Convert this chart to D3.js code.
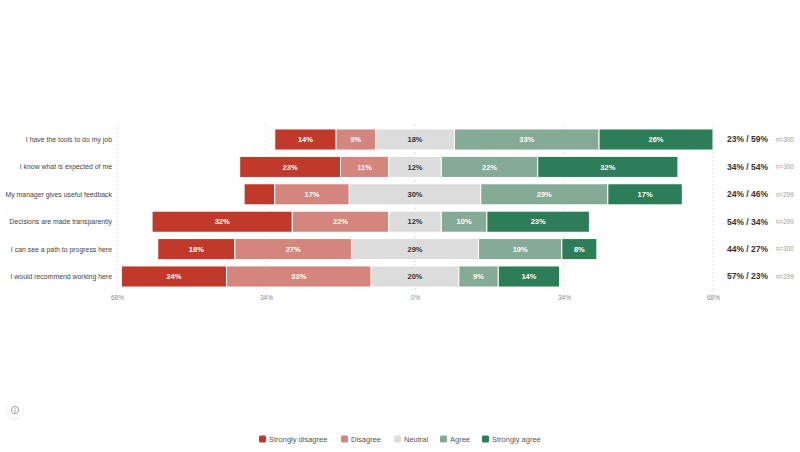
<!DOCTYPE html>
<html>
<head>
<meta charset="utf-8">
<script src="https://cdn.jsdelivr.net/npm/d3@7"></script>
<style>
  html, body { margin: 0; padding: 0; background: #fff; }
  svg { display: block; font-family: "Liberation Sans", Arial, sans-serif; }
</style>
</head>
<body>
<svg width="800" height="452"></svg>
<script>
// 질문 항목 (위에서 아래 순서)
const questions = [
  "I have the tools to do my job",
  "I know what is expected of me",
  "My manager gives useful feedback",
  "Decisions are made transparently",
  "I can see a path to progress here",
  "I would recommend working here"
];
const levels = ["Strongly disagree", "Disagree", "Neutral", "Agree", "Strongly agree"];
// 응답 비율 (%) - 레벨 순서대로
const stronglyDisagree = [14, 23, 7, 32, 17.6, 24];
const disagree = [9, 11, 17, 22, 26.6, 33];
const neutral = [18, 12, 30, 12, 29, 20];
const agree = [33, 22, 29, 10.4, 19, 9];
const stronglyAgree = [26, 32, 17, 23.4, 8, 14];
const sampleSizes = [300, 300, 299, 299, 300, 299];
const tickValues = [-68, -34, 0, 34, 68];

const colors = ["#c0392b", "#d4867e", "#dcdcdc", "#85ab96", "#2e7d59"];
const series = [stronglyDisagree, disagree, neutral, agree, stronglyAgree];

const svg = d3.select("svg");

const x = d3.scaleLinear().domain([-68, 68]).range([117, 713]);
const y = d3.scaleBand()
  .domain(questions)
  .range([125.8, 290.2])
  .paddingInner(0.23)
  .paddingOuter(0.115);

// 세로 격자선 (점선)
svg.append("g")
  .selectAll("line")
  .data(tickValues)
  .enter()
  .append("line")
  .attr("x1", (d) => x(d))
  .attr("x2", (d) => x(d))
  .attr("y1", 124)
  .attr("y2", 292)
  .attr("stroke", (d) => (d === 0 ? "#d6d6d6" : "#e4e4e4"))
  .attr("stroke-dasharray", "2,2");

// 축 눈금 라벨
const axis = svg.append("g")
  .attr("transform", "translate(0, 291)")
  .call(d3.axisBottom(x).tickValues(tickValues).tickSize(0).tickPadding(4)
    .tickFormat((d) => Math.abs(d) + "%"));
axis.select(".domain").remove();
axis.selectAll("text")
  .attr("fill", "#888")
  .style("font-size", "6.5px")
  .style("font-family", "Liberation Sans, Arial, sans-serif");

// 세그먼트 데이터 만들기: 중립의 가운데를 0에 맞춤
const rows = questions.map((q, i) => {
  const vals = series.map((s) => s[i]);
  let start = -(vals[0] + vals[1] + vals[2] / 2);
  const segs = vals.map((v, k) => {
    const seg = { q, k, v, x0: start, x1: start + v };
    start += v;
    return seg;
  });
  return { q, i, segs, neg: vals[0] + vals[1], pos: vals[3] + vals[4], n: sampleSizes[i] };
});

const rowG = svg.append("g")
  .selectAll("g")
  .data(rows)
  .enter()
  .append("g")
  .attr("transform", (d) => `translate(0, ${y(d.q)})`);

rowG.selectAll("rect")
  .data((d) => d.segs)
  .enter()
  .append("rect")
  .attr("x", (d) => x(d.x0))
  .attr("width", (d) => x(d.x1) - x(d.x0))
  .attr("height", y.bandwidth())
  .attr("fill", (d) => colors[d.k])
  .attr("stroke", "#fff")
  .attr("stroke-width", 1);

// 막대 안 라벨 (작은 조각은 생략)
rowG.selectAll("text.val")
  .data((d) => d.segs.filter((s) => s.v >= 8))
  .enter()
  .append("text")
  .attr("class", "val")
  .attr("x", (d) => (x(d.x0) + x(d.x1)) / 2)
  .attr("y", y.bandwidth() / 2)
  .attr("dy", "0.35em")
  .attr("text-anchor", "middle")
  .style("font-size", "7.5px")
  .style("font-weight", "bold")
  .attr("fill", (d) => (d.k === 2 ? "#333" : "#fff"))
  .text((d) => Math.round(d.v) + "%");

// 질문 라벨
rowG.append("text")
  .attr("x", 112)
  .attr("y", y.bandwidth() / 2)
  .attr("dy", "0.35em")
  .attr("text-anchor", "end")
  .style("font-size", "6.9px")
  .attr("fill", "#444")
  .text((d) => d.q);

// 오른쪽 요약: 부정 / 긍정
rowG.append("text")
  .attr("x", 727)
  .attr("y", y.bandwidth() / 2)
  .attr("dy", "0.35em")
  .style("font-size", "8.5px")
  .style("font-weight", "bold")
  .attr("fill", "#333")
  .text((d) => `${Math.round(d.neg)}% / ${Math.round(d.pos)}%`);

rowG.append("text")
  .attr("x", 776)
  .attr("y", y.bandwidth() / 2)
  .attr("dy", "0.35em")
  .style("font-size", "6.3px")
  .attr("fill", "#999")
  .text((d) => "n=" + d.n);

// 범례
const legend = svg.append("g").attr("transform", "translate(0, 439)");
const legendX = [259, 341, 394, 440, 482];
const item = legend.selectAll("g")
  .data(levels)
  .enter()
  .append("g")
  .attr("transform", (d, i) => `translate(${legendX[i]}, 0)`);
item.append("rect")
  .attr("x", 0)
  .attr("y", -3.5)
  .attr("width", 7)
  .attr("height", 7)
  .attr("rx", 1.5)
  .attr("fill", (d, i) => colors[i]);
item.append("text")
  .attr("x", 10)
  .attr("dy", "0.35em")
  .style("font-size", "7.5px")
  .attr("fill", "#555")
  .text((d) => d);

// 정보 아이콘
const info = svg.append("g").attr("transform", "translate(15, 410)");
const defs = svg.append("defs");
const f = defs.append("filter").attr("id", "sh").attr("x", "-50%").attr("y", "-50%").attr("width", "200%").attr("height", "200%");
f.append("feDropShadow").attr("dx", 0).attr("dy", 0.5).attr("stdDeviation", 1.2).attr("flood-color", "#000").attr("flood-opacity", 0.15);
info.append("circle").attr("r", 8).attr("fill", "#fff").attr("filter", "url(#sh)");
info.append("circle").attr("r", 3.6).attr("fill", "none").attr("stroke", "#888").attr("stroke-width", 0.8);
info.append("line").attr("x1", 0).attr("x2", 0).attr("y1", -0.5).attr("y2", 2).attr("stroke", "#888").attr("stroke-width", 0.8);
info.append("circle").attr("cy", -1.8).attr("r", 0.5).attr("fill", "#888");
</script>
</body>
</html>
